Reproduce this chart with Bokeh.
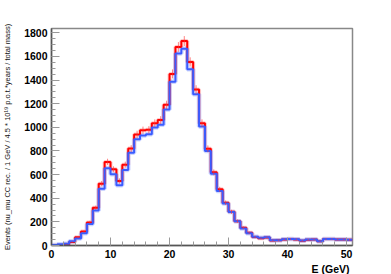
from bokeh.plotting import figure
from bokeh.models import Title, SingleIntervalTicker, Range1d, ColumnDataSource
from bokeh.embed import file_html
from bokeh.resources import INLINE

# bin edges (1 GeV bins, 0..51 GeV)
bin_low = list(range(0, 51))
bin_width = 1.0

red_counts = [0, 3, 10, 30, 70, 119, 195, 319, 523, 707,
              645, 546, 684, 820, 940, 975, 979, 1035, 1061, 1190,
              1452, 1680, 1730, 1553, 1320, 1035, 818, 619, 475, 362,
              285, 206, 150, 107, 72, 62, 68, 43, 44, 50,
              54, 50, 40, 48, 50, 36, 54, 54, 50, 50, 48]
red_errors = [0, 2, 4, 6, 9, 11, 14, 18, 23, 27,
              25, 23, 26, 29, 31, 31, 31, 32, 33, 35,
              38, 41, 42, 39, 36, 32, 29, 25, 22, 19,
              17, 14, 12, 10, 9, 8, 8, 7, 7, 7,
              7, 7, 6, 7, 7, 6, 7, 7, 7, 7, 7]
blue_counts = [5, 10, 15, 35, 60, 104, 181, 297, 481, 654,
               603, 509, 639, 785, 900, 930, 942, 998, 1021, 1150,
               1386, 1625, 1664, 1491, 1280, 1007, 800, 608, 461, 356,
               283, 206, 144, 104, 75, 65, 70, 45, 45, 52,
               55, 52, 42, 51, 51, 36, 56, 56, 51, 51, 48]

x_label = "E (GeV)"
y_label = "Events (nu_mu CC rec. / 1 GeV / 4.5 * 10\u00b9\u2079 p.o.t.*years / total mass)"

FONT = "Liberation Sans"

p = figure(width=380, height=274, output_backend="svg", toolbar_location=None,
           x_range=Range1d(0, 51), y_range=Range1d(0, 1836),
           min_border_left=50, min_border_right=28, min_border_top=28, min_border_bottom=28)
p.background_fill_color = "white"
p.border_fill_color = "white"
p.outline_line_color = "#888888"
p.outline_line_width = 1.5
p.grid.visible = False

def step_xy(counts):
    xs = [b for b in bin_low] + [bin_low[-1] + bin_width]
    ys = list(counts) + [counts[-1]]
    return xs, ys

rx, ry = step_xy(red_counts)
bx, by = step_xy(blue_counts)

# halos
p.step(rx, ry, mode="after", line_color="#ff6666", line_width=4, line_alpha=0.35)
p.step(bx, by, mode="after", line_color="#6f8aff", line_width=4.5, line_alpha=0.35)
p.step(rx, ry, mode="after", line_color="#ff0000", line_width=2)
p.step(bx, by, mode="after", line_color="#3a5cff", line_width=2)

centers = [b + bin_width / 2 for b in bin_low]
err_src = ColumnDataSource(dict(
    x=centers,
    lo=[c - e for c, e in zip(red_counts, red_errors)],
    hi=[c + e for c, e in zip(red_counts, red_errors)],
))
p.segment(x0="x", y0="lo", x1="x", y1="hi", source=err_src,
          line_color="#ff3333", line_width=1, line_alpha=0.6)

# axes
p.xaxis.ticker = SingleIntervalTicker(interval=10, num_minor_ticks=5)
p.yaxis.ticker = SingleIntervalTicker(interval=200, num_minor_ticks=4)
for ax in (p.xaxis[0], p.yaxis[0]):
    ax.major_tick_in = 8
    ax.major_tick_out = 0
    ax.minor_tick_in = 4
    ax.minor_tick_out = 0
    ax.major_tick_line_color = "#999999"
    ax.minor_tick_line_color = "#999999"
    ax.axis_line_color = "#555555"
    ax.axis_line_width = 1.5
    ax.major_label_text_font = FONT
    ax.major_label_text_font_style = "bold"
    ax.major_label_text_font_size = "10.5px"
    ax.major_label_text_color = "black"
p.xaxis.major_label_standoff = 4
p.yaxis.major_label_standoff = 4

p.yaxis.axis_label = y_label
p.yaxis.axis_label_text_font = FONT
p.yaxis.axis_label_text_font_style = "normal"
p.yaxis.axis_label_text_font_size = "7.5px"
p.yaxis.axis_label_text_color = "#111111"
p.yaxis.axis_label_standoff = 9

xt = Title(text=x_label, align="right", text_font=FONT, text_font_style="bold",
           text_font_size="10.5px", text_color="black", standoff=0, offset=3)
p.add_layout(xt, "below")

open("out.html", "w").write(file_html(p, INLINE))
